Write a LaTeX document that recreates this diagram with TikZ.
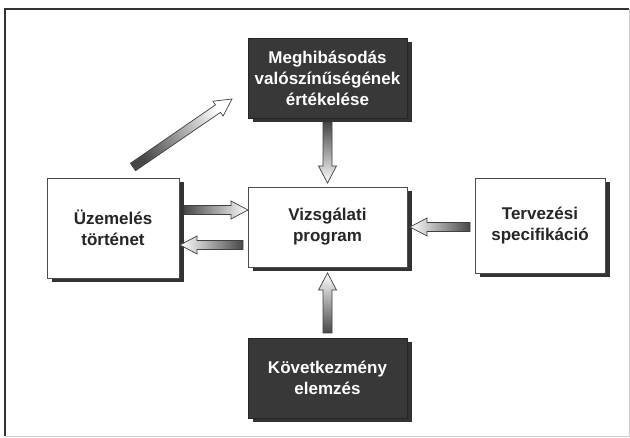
\documentclass[tikz,border=0pt]{standalone}
\usepackage{fontspec}
\setmainfont{Liberation Sans}
\usetikzlibrary{calc,shadows}

\def\bastem{4.5pt}
\def\bawing{9pt}
\def\bahead{17pt}
\newcommand\blockarr[3]{% #1 options, #2 start, #3 end (tip)
  \coordinate (ba-h) at ($(#3)!\bahead!(#2)$);
  \path[barrow,#1] ($(#2)!\bastem!90:(#3)$) -- ($(ba-h)!\bastem!-90:(#2)$)
    -- ($(ba-h)!\bawing!-90:(#2)$) -- (#3) -- ($(ba-h)!\bawing!90:(#2)$)
    -- ($(ba-h)!\bastem!90:(#2)$) -- ($(#2)!\bastem!-90:(#3)$) -- cycle;
}

\tikzset{
  boxbase/.style={inner sep=0pt, outer sep=0pt, align=center,
    font=\fontsize{17}{21}\selectfont\bfseries,
    drop shadow={shadow xshift=4.5pt, shadow yshift=-4.5pt, fill=black!80, opacity=1}},
  whitebox/.style={boxbase, draw=black!70, line width=0.8pt, fill=white, text=black!85},
  darkbox/.style={boxbase, draw=black!85, line width=0.8pt, fill=black!78, text=white},
  barrow/.style={draw=black!75, line width=0.7pt, top color=black!72, bottom color=white},
  frametop/.style={draw=black!80, line width=2.5pt},
  framelight/.style={draw=black!20, line width=0.8pt}
}

\begin{document}
\begin{tikzpicture}[x=1pt, y=-1pt]
  \useasboundingbox (0,0) rectangle (630,438);
  \fill[white] (0,0) rectangle (630,438);

  % frame
  \coordinate (f1) at (5,9);
  \coordinate (f2) at (629,9);
  \coordinate (f3) at (629,436);
  \coordinate (f4) at (5,436);
  \draw[framelight] (f2) -- (f3) -- (f4);
  \draw[frametop] (f4) -- (f1) -- (f2);

  % boxes
  \node[darkbox, minimum width=159pt, minimum height=80pt] (T) at (327.5,78)
    {Meghibásodás\\valószínűségének\\értékelése};
  \node[whitebox, minimum width=159pt, minimum height=80pt] (C) at (327.5,227)
    {Vizsgálati\\program};
  \node[whitebox, minimum width=132pt, minimum height=100pt] (L) at (113,228)
    {Üzemelés\\történet};
  \node[whitebox, minimum width=130pt, minimum height=95pt] (R) at (540,225.5)
    {Tervezési\\specifikáció};
  \node[darkbox, minimum width=159pt, minimum height=80pt] (B) at (327.5,378)
    {Következmény\\elemzés};

  % arrow end points
  \coordinate (a1s) at ($(T.south)+(0,4.5)$);
  \coordinate (a1e) at ($(C.north)+(0,-4)$);
  \coordinate (a2s) at ($(B.north)+(0,-5)$);
  \coordinate (a2e) at ($(C.south)+(0,6)$);
  \coordinate (a3s) at ($(L.east)+(5,-18)$);
  \coordinate (a3e) at ($(C.west)+(0,-17)$);
  \coordinate (a4s) at ($(C.west)+(-5,18)$);
  \coordinate (a4e) at ($(L.east)+(1,17)$);
  \coordinate (a5s) at ($(R.west)+(-5,1.5)$);
  \coordinate (a5e) at ($(C.east)+(3,0)$);
  \coordinate (a6s) at ($(L.north)+(20,-11)$);
  \coordinate (a6e) at ($(T.west)+(-16,21)$);

  % arrows
  \blockarr{shading angle=0}{a1s}{a1e}
  \blockarr{shading angle=180}{a2s}{a2e}
  \blockarr{shading angle=90}{a3s}{a3e}
  \blockarr{shading angle=270}{a4s}{a4e}
  \blockarr{shading angle=270}{a5s}{a5e}
  \blockarr{shading angle=124.5}{a6s}{a6e}
\end{tikzpicture}
\end{document}
